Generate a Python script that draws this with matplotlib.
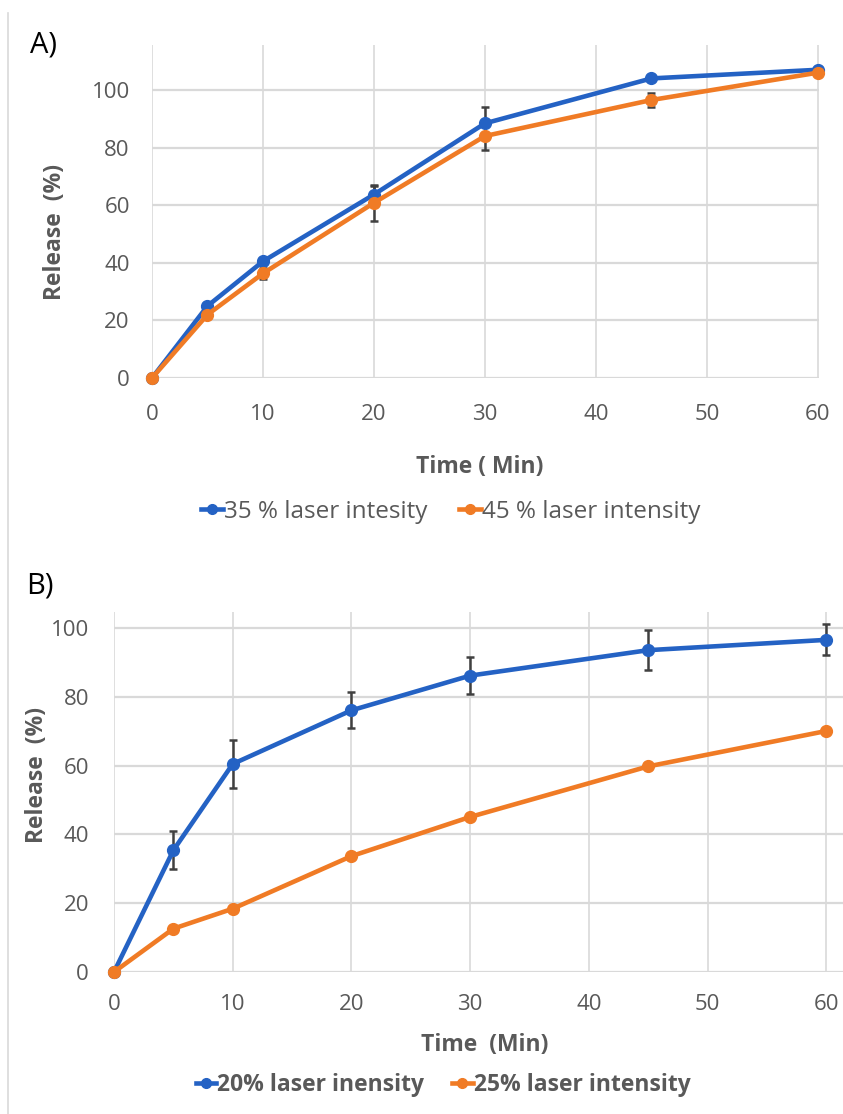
import matplotlib.pyplot as plt
from matplotlib.lines import Line2D

plt.rcParams['font.family'] = ['Open Sans', 'DejaVu Sans']

# panel A
time_a = [0, 5, 10, 20, 30, 45, 60]
rel_35 = [0, 25, 40.5, 63.7, 88.4, 104, 107]
err_35 = [0, 0, 0, 3, 5.6, 0, 0]
rel_45 = [0, 22, 36.3, 60.8, 84, 96.5, 106]
err_45 = [0, 0, 2, 6.3, 5, 2.5, 0]

# panel B
time_b = [0, 5, 10, 20, 30, 45, 60]
rel_20 = [0, 35.4, 60.5, 76.1, 86.2, 93.6, 96.6]
err_20 = [0, 5.5, 7, 5.2, 5.3, 5.8, 4.5]
rel_25 = [0, 12.6, 18.4, 33.7, 45.1, 59.8, 70.1]

labels_a = ['35 % laser intesity', '45 % laser intensity']
labels_b = ['20% laser inensity', '25% laser intensity']

xticks = [0, 10, 20, 30, 40, 50, 60]
yticks = [0, 20, 40, 60, 80, 100]

BLUE = '#2462C4'
ORANGE = '#F07B25'
GRID = '#D9D9D9'
TXT = '#595959'
W, H = 843, 1114

fig = plt.figure(figsize=(W / 100, H / 100), dpi=100)


def px_axes(left, right, top, bottom):
    return fig.add_axes([left / W, 1 - bottom / H, (right - left) / W, (bottom - top) / H])


def style(ax, xlim, ylim, xpad, ypad):
    ax.set_xlim(*xlim)
    ax.set_ylim(*ylim)
    ax.set_xticks(xticks)
    ax.set_yticks(yticks)
    for s in ax.spines.values():
        s.set_visible(False)
    ax.tick_params(length=0, labelsize=16, labelcolor=TXT)
    ax.tick_params(axis='x', pad=xpad)
    ax.tick_params(axis='y', pad=ypad)
    for y in yticks:
        ax.axhline(y, color=GRID, lw=1.6, zorder=0)
    for x in xticks:
        ax.axvline(x, color=GRID, lw=1.2, zorder=0)


def series(ax, x, y, err, color):
    ax.plot(x, y, color=color, lw=3.3, marker='o', ms=8.5, zorder=3, clip_on=False)
    if err is not None:
        xs = [a for a, e in zip(x, err) if e > 0]
        ys = [b for b, e in zip(y, err) if e > 0]
        es = [e for e in err if e > 0]
        ax.errorbar(xs, ys, yerr=es, fmt='none', ecolor='#404040', elinewidth=1.8,
                    capsize=3, capthick=1.8, zorder=2.5, clip_on=False)


# ---- A ----
axa = px_axes(152, 819, 45, 378)
style(axa, (0, 60.1), (0, 115.6), 19, 16)
series(axa, time_a, rel_35, err_35, BLUE)
series(axa, time_a, rel_45, err_45, ORANGE)

# ---- B ----
axb = px_axes(114, 843, 612, 972)
style(axb, (0, 61.4), (0, 104.7), 16, 18)
series(axb, time_b, rel_20, err_20, BLUE)
series(axb, time_b, rel_25, None, ORANGE)

# text
fig.text(30 / W, 1 - 45 / H, 'A)', fontsize=21, color='black', va='center', ha='left')
fig.text(26 / W, 1 - 586 / H, 'B)', fontsize=21, color='black', va='center', ha='left')
fig.text(55 / W, 1 - 232 / H, 'Release  (%)', rotation=90, fontsize=16.5, fontweight='bold',
         color=TXT, ha='center', va='center')
fig.text(37 / W, 1 - 775 / H, 'Release  (%)', rotation=90, fontsize=16.5, fontweight='bold',
         color=TXT, ha='center', va='center')
fig.text(480 / W, 1 - 467 / H, 'Time ( Min)', fontsize=16.5, fontweight='bold',
         color=TXT, ha='center', va='center')
fig.text(485 / W, 1 - 1045 / H, 'Time  (Min)', fontsize=16.5, fontweight='bold',
         color=TXT, ha='center', va='center')


def handles():
    return [Line2D([], [], color=c, lw=3.3, marker='o', ms=7) for c in (BLUE, ORANGE)]


fig.legend(handles(), labels_a, loc='center', bbox_to_anchor=(451 / W, 1 - 512 / H),
           ncol=2, frameon=False, fontsize=17.5, labelcolor=TXT, handlelength=0.9,
           handletextpad=0.05, columnspacing=1.3)
fig.legend(handles(), labels_b, loc='center', bbox_to_anchor=(443 / W, 1 - 1085 / H),
           ncol=2, frameon=False, labelcolor=TXT, handlelength=0.9,
           handletextpad=0.05, columnspacing=1.2, prop={'weight': 'bold', 'size': 16.5})

# chart frame line on the left
fig.add_artist(Line2D([8 / W, 8 / W], [0, 1 - 13 / H], transform=fig.transFigure,
                      color=GRID, lw=1.2))

fig.savefig('out.png', dpi=100)
